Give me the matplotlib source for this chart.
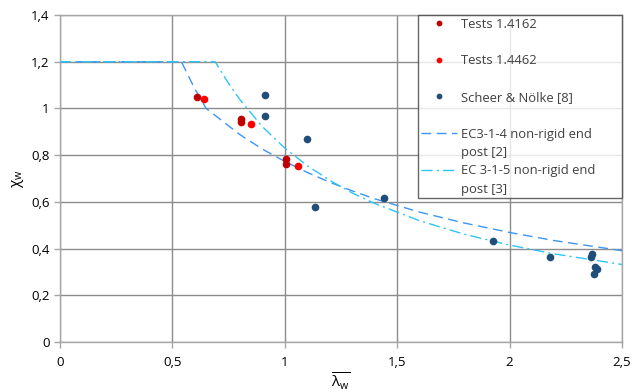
import matplotlib
matplotlib.use("Agg")
import matplotlib.pyplot as plt
from matplotlib.lines import Line2D
from matplotlib.ticker import FuncFormatter

plt.rcParams['font.family'] = ['Open Sans', 'DejaVu Sans']
plt.rcParams['mathtext.fontset'] = 'custom'
plt.rcParams['mathtext.rm'] = 'Open Sans'
plt.rcParams['mathtext.it'] = 'Open Sans'

# Tests 1.4162
t1_x = [0.61, 0.805, 0.805, 1.005, 1.005]
t1_y = [1.05, 0.953, 0.94, 0.785, 0.763]
# Tests 1.4462
t2_x = [0.64, 0.85, 1.06]
t2_y = [1.04, 0.932, 0.752]
# Scheer & Nölke [8]
sn_x = [0.913, 0.913, 1.097, 1.133, 1.44, 1.926, 2.181, 2.36, 2.368, 2.38, 2.387, 2.377]
sn_y = [1.059, 0.969, 0.869, 0.578, 0.616, 0.434, 0.364, 0.365, 0.375, 0.321, 0.311, 0.292]
# EC3-1-4 non-rigid end post [2]
ec4_x = [0.0, 0.54, 0.6, 0.65, 0.8, 0.9, 1.0, 1.1, 1.2, 1.3, 1.4, 1.6, 1.8, 2.0, 2.2, 2.5]
ec4_y = [1.2, 1.2, 1.083, 1.0, 0.888, 0.826, 0.773, 0.726, 0.684, 0.647, 0.613, 0.556, 0.509, 0.469, 0.434, 0.391]
# EC 3-1-5 non-rigid end post [3]
ec5_x = [0.0, 0.69, 0.75, 0.8, 0.9, 1.0, 1.1, 1.2, 1.3, 1.4, 1.6, 1.8, 2.0, 2.2, 2.5]
ec5_y = [1.2, 1.2, 1.107, 1.038, 0.922, 0.83, 0.755, 0.692, 0.638, 0.593, 0.519, 0.461, 0.415, 0.377, 0.332]

x_ticks = [0, 0.5, 1, 1.5, 2, 2.5]
y_ticks = [0, 0.2, 0.4, 0.6, 0.8, 1.0, 1.2, 1.4]

fig = plt.figure(figsize=(6.43, 3.92), dpi=100)
ax = fig.add_axes([60/643, 50/392, 562/643, 327/392])

h1, = ax.plot(t1_x, t1_y, 'o', color='#C00000', ms=4.5, zorder=4)
h2, = ax.plot(t2_x, t2_y, 'o', color='#FF0000', ms=4.5, zorder=4)
h3, = ax.plot(sn_x, sn_y, 'o', color='#1F4E79', ms=4.5, zorder=4)
h4, = ax.plot(ec4_x, ec4_y, color='#3C96F5', lw=1.0, dashes=(7, 4), zorder=3)
h5, = ax.plot(ec5_x, ec5_y, color='#2EC5F5', lw=1.0, dashes=(8, 3, 1.5, 3), zorder=3)

ax.set_xlim(0, 2.5)
ax.set_ylim(0, 1.4)
ax.set_xticks(x_ticks)
ax.set_yticks(y_ticks)

def fmt(v, pos):
    s = ('%.1f' % v).rstrip('0').rstrip('.')
    return s.replace('.', ',')
ax.xaxis.set_major_formatter(FuncFormatter(fmt))
ax.yaxis.set_major_formatter(FuncFormatter(fmt))

ax.grid(True, color='#8c8c8c', lw=1.0)
ax.set_axisbelow(True)
for s in ax.spines.values():
    s.set_color('#a6a6a6')
    s.set_linewidth(1.0)
ax.tick_params(axis='both', colors='#a6a6a6', labelcolor='black', labelsize=9.5,
               length=4, width=1, direction='out')
ax.tick_params(axis='x', pad=6)

ax.set_xlabel(r'$\overline{\mathrm{\lambda}_\mathrm{w}}$', fontsize=11, labelpad=1)
ax.set_ylabel(r'$\mathrm{\chi}_\mathrm{w}$', fontsize=11, labelpad=4)

blank = Line2D([], [], linestyle='none')
handles = [h1, blank, h2, blank, h3, blank, h4, blank, h5, blank]
labels = ['Tests 1.4162', ' ', 'Tests 1.4462', ' ', 'Scheer & Nölke [8]', ' ',
          'EC3-1-4 non-rigid end', 'post [2]', 'EC 3-1-5 non-rigid end', 'post [3]']
leg = ax.legend(handles, labels, loc='upper left',
                bbox_to_anchor=(0.637, 0.428, 0.363, 0.572), mode='expand',
                frameon=True, fancybox=False,
                edgecolor='#404040', fontsize=9.4, labelspacing=0.41, handlelength=2.8,
                handletextpad=0.3, borderpad=0.2, borderaxespad=0, markerscale=0.7)
leg.get_frame().set_linewidth(1.0)
for t in leg.get_texts():
    t.set_color('#404040')

fig.savefig('out.png', dpi=100)
